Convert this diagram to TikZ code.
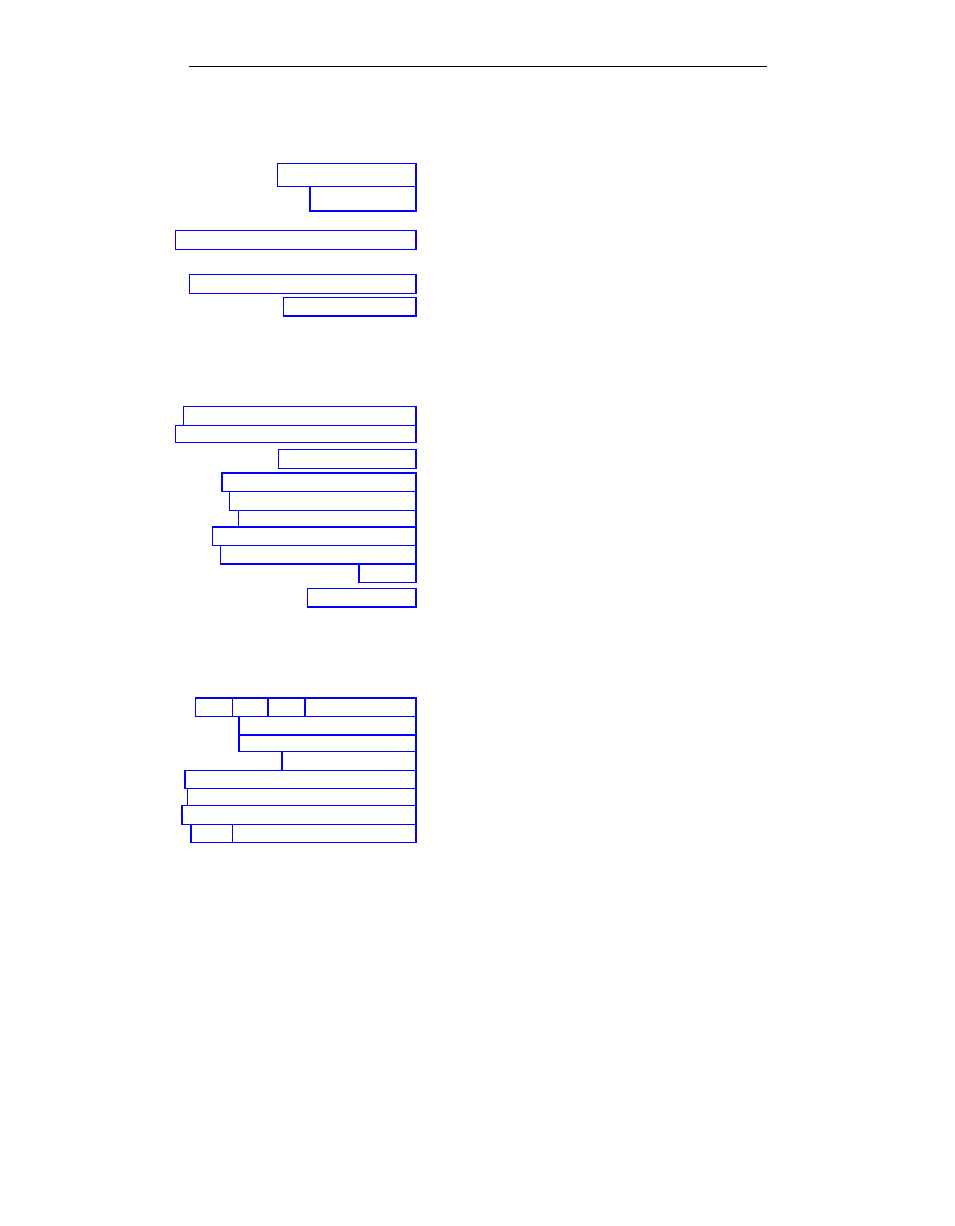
\documentclass[tikz,border=0pt]{standalone}
\begin{document}
\begin{tikzpicture}[x=1pt,y=-1pt,
  fbox/.style={draw=blue,line width=1.4pt,rectangle,inner sep=0pt,outer sep=0pt,anchor=north west},
  rulestyle/.style={draw=black,line width=1pt}]
\useasboundingbox (0,0) rectangle (954,1226);
\newcommand{\bx}[5]{\node[fbox,minimum width={(#4-#2)*1pt},minimum height={(#5-#3)*1pt}] (#1) at (#2,#3) {};}
% top rule
\coordinate (rl) at (189,66);
\coordinate (rr) at (767,66);
\draw[rulestyle] (rl) -- (rr);
% section 1
\bx{a1}{277.3}{163.3}{416}{186.3}
\bx{a2}{310}{186.3}{416}{211}
\bx{a3}{175.3}{230.7}{416}{249.3}
\bx{a4}{189.3}{274.7}{416}{293.3}
\bx{a5}{283.3}{297.3}{416}{316}
% section 2
\bx{b1}{183.3}{406.7}{416}{425.3}
\bx{b2}{175.3}{425.3}{416}{442.3}
\bx{b3}{278.7}{449.7}{416}{468.3}
\bx{b4}{222}{473}{416}{491.7}
\bx{b5}{229.3}{491.7}{416}{510.3}
\bx{b6}{238.7}{510.3}{416}{527}
\bx{b7}{212.7}{527}{416}{545.3}
\bx{b8}{220.3}{545.3}{416}{564}
\bx{b9}{359}{564}{416}{582.3}
\bx{b10}{307.7}{588.7}{416}{607}
% section 3
\bx{c1a}{195.7}{698}{232.3}{716.3}
\bx{c1b}{232.3}{698}{268}{716.3}
\bx{c1c}{268}{698}{305}{716.3}
\bx{c1d}{305}{698}{416}{716.3}
\bx{c2}{239}{716.3}{416}{735}
\bx{c3}{239}{735}{416}{751.7}
\bx{c4}{282}{751.7}{416}{770.3}
\bx{c5}{185}{770.3}{416}{788.7}
\bx{c6}{187.7}{788.7}{416}{805.7}
\bx{c7}{182}{805.7}{416}{824.3}
\bx{c8a}{191}{824.3}{232.3}{842.7}
\bx{c8b}{232.3}{824.3}{416}{842.7}
\end{tikzpicture}
\end{document}
